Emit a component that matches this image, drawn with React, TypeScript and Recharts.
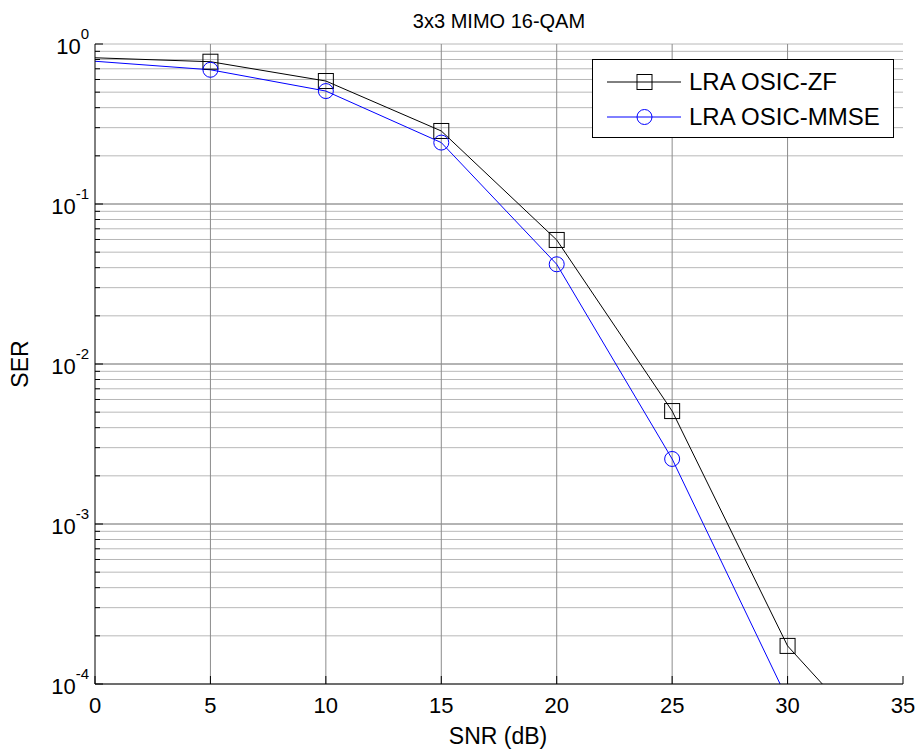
import React from 'react';
import {
  LineChart,
  Line,
  XAxis,
  YAxis,
  CartesianGrid,
  ReferenceLine,
} from 'recharts';

const snr = [0, 5, 10, 15, 20, 25, 30, 35];
const serZF = [0.82, 0.775, 0.587, 0.286, 0.0596, 0.00508, 0.000173, 0.000028];
const serMMSE = [0.78, 0.69, 0.508, 0.242, 0.042, 0.00255, 0.00008, null];

const xTicks = [0, 5, 10, 15, 20, 25, 30, 35];
const decades = [0.0001, 0.001, 0.01, 0.1, 1];
const yTicks: number[] = [];
decades.slice(0, 4).forEach((d) => {
  for (let k = 1; k <= 9; k++) yTicks.push(+(d * k).toPrecision(3));
});
yTicks.push(1);

const data = snr.map((s, i) => ({ snr: s, zf: serZF[i], mmse: serMMSE[i] }));

const FONT = '"Liberation Sans", Arial, sans-serif';
const BLUE = '#0000ff';
const Y_MIN = 0.0001;

const isDecade = (v: number) => Math.abs(Math.log10(v) - Math.round(Math.log10(v))) < 1e-6;

// left axis: tickSize 0, tickMargin 6 -> axis line at x + 6
const LeftTick = (props: any) => {
  const { x, y, payload } = props;
  const v = payload.value;
  const major = isDecade(v);
  const ax = x + 6;
  return (
    <g>
      <line x1={ax} x2={ax + (major ? 8 : 5)} y1={y} y2={y} stroke="#000" />
      {major && (
        <text x={x} y={y + 10} textAnchor="end" fontSize={22} fontFamily={FONT} fill="#000">
          <tspan>10</tspan>
          <tspan dy={-15} fontSize={15}>{Math.round(Math.log10(v))}</tspan>
        </text>
      )}
    </g>
  );
};

const RightTick = (props: any) => {
  const { x, y, payload } = props;
  const major = isDecade(payload.value);
  return <line x1={x} x2={x - (major ? 8 : 5)} y1={y} y2={y} stroke="#000" />;
};

// bottom axis: tickSize 0, tickMargin 12 -> axis line at y - 12
const BottomTick = (props: any) => {
  const { x, y, payload } = props;
  const ay = y - 12;
  return (
    <g>
      <line x1={x} x2={x} y1={ay} y2={ay - 8} stroke="#000" />
      <text x={x} y={y + 17} textAnchor="middle" fontSize={22} fontFamily={FONT} fill="#000">
        {payload.value}
      </text>
    </g>
  );
};

const TopTick = (props: any) => {
  const { x, y } = props;
  return <line x1={x} x2={x} y1={y} y2={y + 8} stroke="#000" />;
};

const SquareDot = (props: any) => {
  const { cx, cy, index, value } = props;
  if (index === 0 || value == null || value < Y_MIN || cx == null) return <g key={`s${index}`} />;
  return (
    <rect key={`s${index}`} x={cx - 7.5} y={cy - 7.5} width={15} height={15} fill="none" stroke="#000" />
  );
};

const CircleDot = (props: any) => {
  const { cx, cy, index, value } = props;
  if (index === 0 || value == null || value < Y_MIN || cx == null) return <g key={`c${index}`} />;
  return <circle key={`c${index}`} cx={cx} cy={cy} r={7.5} fill="none" stroke={BLUE} />;
};

const legendRows = [
  { name: 'LRA OSIC-ZF', color: '#000', marker: 'square' },
  { name: 'LRA OSIC-MMSE', color: BLUE, marker: 'circle' },
];

const LegendBox = () => (
  <div
    style={{
      position: 'absolute',
      left: 592,
      top: 59,
      width: 300,
      height: 77,
      border: '1px solid #000',
      background: '#fff',
      fontFamily: FONT,
      fontSize: 24,
    }}
  >
    {legendRows.map((r, i) => (
      <div key={r.name} style={{ display: 'flex', alignItems: 'center', height: 35, marginTop: i === 0 ? 4 : 0 }}>
        <svg width={96} height={35} style={{ flex: 'none' }}>
          <line x1={14} x2={88} y1={18} y2={18} stroke={r.color} />
          {r.marker === 'square' ? (
            <rect x={44} y={10.5} width={15} height={15} fill="none" stroke={r.color} />
          ) : (
            <circle cx={51.5} cy={18} r={7.5} fill="none" stroke={r.color} />
          )}
        </svg>
        <span style={{ color: '#000', whiteSpace: 'nowrap' }}>{r.name}</span>
      </div>
    ))}
  </div>
);

export default function App() {
  return (
    <div style={{ position: 'absolute', left: 0, top: 0, width: 920, height: 753, background: '#fff' }}>
      <LineChart width={920} height={753} data={data} margin={{ top: 44, right: 17, bottom: 29, left: 35 }}>
        <CartesianGrid vertical={false} stroke="#b8b8b8" />
        <XAxis
          dataKey="snr"
          type="number"
          domain={[0, 35]}
          ticks={xTicks}
          height={40}
          tickSize={0}
          tickMargin={12}
          tick={BottomTick}
          axisLine={{ stroke: '#000' }}
          interval={0}
        />
        <XAxis
          xAxisId="top"
          orientation="top"
          dataKey="snr"
          type="number"
          domain={[0, 35]}
          ticks={xTicks}
          height={0}
          tickSize={0}
          tickMargin={0}
          tick={TopTick}
          axisLine={{ stroke: '#000' }}
          interval={0}
        />
        <YAxis
          scale="log"
          type="number"
          domain={[Y_MIN, 1]}
          allowDataOverflow
          ticks={yTicks}
          width={60}
          tickSize={0}
          tickMargin={6}
          tick={LeftTick}
          axisLine={{ stroke: '#000' }}
          interval={0}
        />
        <YAxis
          yAxisId="right"
          orientation="right"
          scale="log"
          type="number"
          domain={[Y_MIN, 1]}
          allowDataOverflow
          ticks={yTicks}
          width={0}
          tickSize={0}
          tickMargin={0}
          tick={RightTick}
          axisLine={{ stroke: '#000' }}
          interval={0}
        />
        {decades.slice(1, 4).map((d) => (
          <ReferenceLine key={`d${d}`} y={d} stroke="#8c8c8c" />
        ))}
        {xTicks.slice(1, -1).map((t) => (
          <ReferenceLine key={`x${t}`} x={t} stroke="#8c8c8c" />
        ))}
        <Line
          name="LRA OSIC-ZF"
          dataKey="zf"
          type="linear"
          stroke="#000"
          strokeWidth={1}
          dot={SquareDot}
          activeDot={false}
          isAnimationActive={false}
        />
        <Line
          name="LRA OSIC-MMSE"
          dataKey="mmse"
          type="linear"
          stroke={BLUE}
          strokeWidth={1}
          dot={CircleDot}
          activeDot={false}
          isAnimationActive={false}
        />
      </LineChart>
      <LegendBox />
      <svg
        width={920}
        height={753}
        style={{ position: 'absolute', left: 0, top: 0, pointerEvents: 'none' }}
        fontFamily={FONT}
      >
        <text x={499} y={28} textAnchor="middle" fontSize={20} fill="#000">
          3x3 MIMO 16-QAM
        </text>
        <text x={498} y={744} textAnchor="middle" fontSize={23} fill="#000">
          SNR (dB)
        </text>
        <text x={28} y={364} textAnchor="middle" fontSize={23} fill="#000" transform="rotate(-90 28 364)">
          SER
        </text>
      </svg>
    </div>
  );
}
